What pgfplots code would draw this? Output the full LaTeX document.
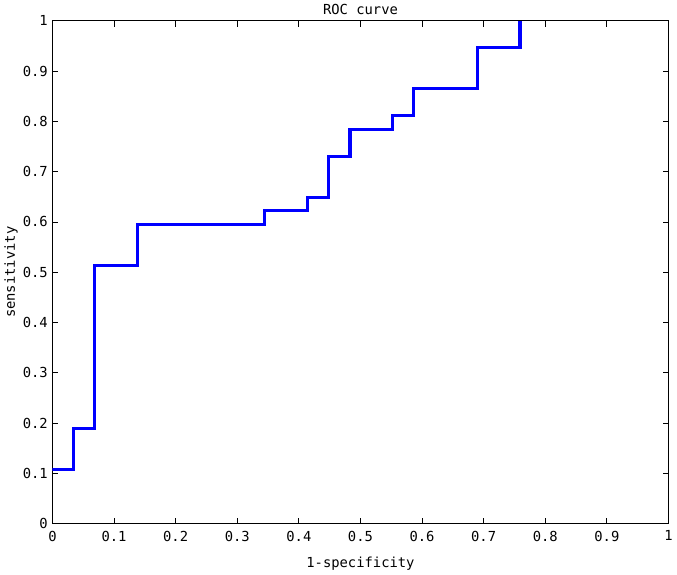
\documentclass[border=0pt]{standalone}
\usepackage{pgfplots}
\pgfplotsset{compat=1.18}
\usepackage{fontspec}
\setmainfont{DejaVu Sans Mono}
\begin{document}
\begin{tikzpicture}
\begin{axis}[
    width=468pt, height=382pt,
    scale only axis,
    xmin=0, xmax=1, ymin=0, ymax=1,
    xtick={0,0.1,...,1}, ytick={0,0.1,...,1},
    tick align=inside,
    major tick length=4.5pt,
    tick style={black, line width=0.6pt},
    axis line style={line width=0.75pt},
    ticklabel style={font=\fontsize{10.5}{12}\selectfont},
    xticklabel style={yshift=-2pt},
    label style={font=\fontsize{10.5}{12}\selectfont},
    title style={font=\fontsize{10.5}{12}\selectfont, yshift=-5pt},
    /pgf/number format/assume math mode=true,
    title={ROC curve},
    xlabel={1-specificity},
    ylabel={sensitivity},
    xlabel style={yshift=-5pt},
    ylabel style={yshift=-3pt},
]
\addplot[const plot mark left, blue, line width=2.3pt] coordinates {
    (0,0.108) (0.0345,0.189) (0.069,0.514) (0.138,0.595) (0.345,0.622)
    (0.414,0.649) (0.448,0.730) (0.483,0.784) (0.552,0.811) (0.586,0.865)
    (0.690,0.946) (0.759,1)
};
\end{axis}
\end{tikzpicture}
\end{document}
